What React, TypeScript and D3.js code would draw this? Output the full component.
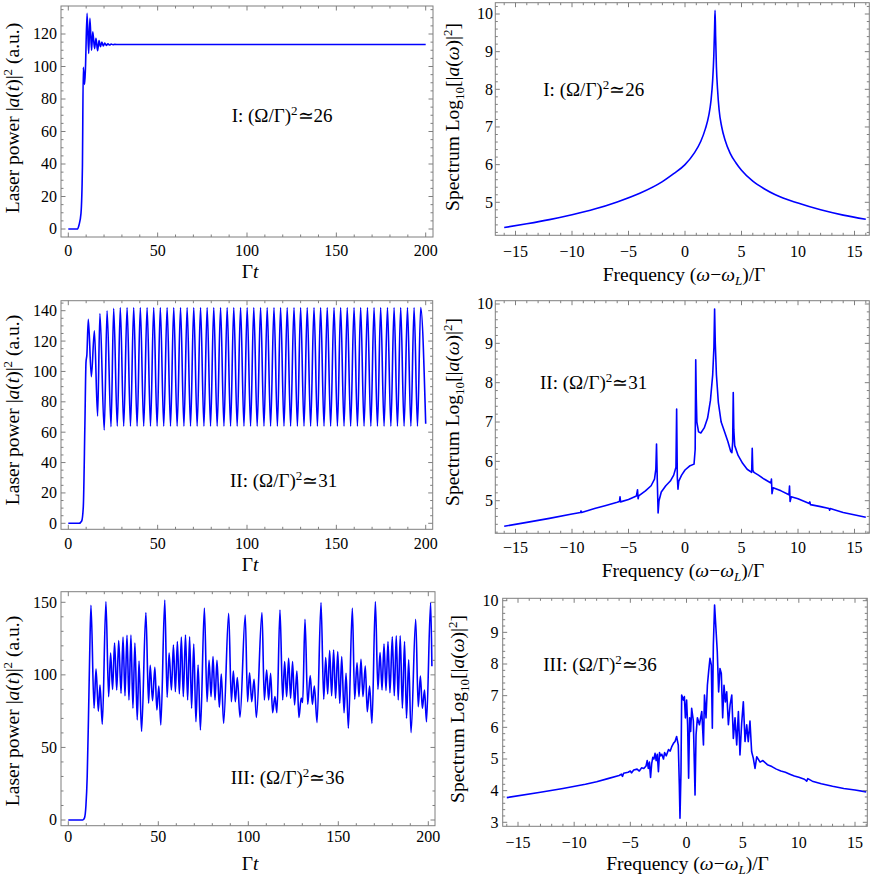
import React from "react";
import * as d3 from "d3";

type Pt = [number, number];

// ---------- tick values ----------
const TIME_TICKS = [0, 50, 100, 150, 200];
const FREQ_TICKS = [-15, -10, -5, 0, 5, 10, 15];
const POWER_TICKS_I = [0, 20, 40, 60, 80, 100, 120];
const POWER_TICKS_II = [0, 20, 40, 60, 80, 100, 120, 140];
const POWER_TICKS_III = [0, 50, 100, 150];
const LOG_TICKS_I = [5, 6, 7, 8, 9, 10];
const LOG_TICKS_II = [5, 6, 7, 8, 9, 10];
const LOG_TICKS_III = [3, 4, 5, 6, 7, 8, 9, 10];
const REGIME_LABELS = ["I", "II", "III"];
const RATIO_VALUES = [26, 31, 36];

// ---------- series ----------
const POWER_I: Pt[] = [
  [0, 0], [5, 0], [6, 2.5], [7.1, 9.6], [7.9, 38], [8.4, 99.5], [9.1, 89], [9.6, 99],
  [10.5, 132.7], [11.4, 108], [12.1, 129.6], [13.0, 110], [13.7, 121.4], [14.7, 111],
  [15.5, 117.3], [16.4, 109.7], [17.2, 116], [18.0, 112.2], [18.8, 115], [19.6, 112.6],
  [20.4, 114.4], [21.3, 113], [22.2, 114], [23.1, 113.2], [24, 113.8], [25, 113.4],
  [26, 113.6], [28, 113.5], [200, 113.5],
];

const POWER_II: Pt[] = [
  [0, 0], [6, 0], [7.5, 1.5], [8.4, 11], [9.3, 66], [9.9, 106], [10.4, 111], [11.2, 134.3],
  [12.9, 96.5], [14.6, 126.8], [16.4, 70.6], [17.7, 138.2], [20.1, 61.4], [21.7, 140],
  [23.9, 63.6], [25.4, 141.5], [27.4, 64], [29.1, 142], [31.0, 64], [32.9, 142], [34.8, 64],
  [36.6, 142], [38.5, 64], [40.3, 142], [42.2, 64], [44.1, 142], [46.0, 64], [47.8, 142],
  [49.7, 64], [51.5, 142], [53.4, 64], [55.3, 142], [57.2, 64], [59.0, 142], [60.9, 64],
  [62.8, 142], [64.7, 64], [66.5, 142], [68.4, 64], [70.2, 142], [72.1, 64], [74.0, 142],
  [75.9, 64], [77.7, 142], [79.6, 64], [81.4, 142], [83.3, 64], [85.2, 142], [87.1, 64],
  [88.9, 142], [90.8, 64], [92.6, 142], [94.5, 64], [96.4, 142], [98.3, 64], [100.1, 142],
  [102.0, 64], [103.8, 142], [105.7, 64], [107.6, 142], [109.5, 64], [111.3, 142],
  [113.2, 64], [115.1, 142], [117.0, 64], [118.8, 142], [120.7, 64], [122.5, 142],
  [124.4, 64], [126.3, 142], [128.2, 64], [130.0, 142], [131.9, 64], [133.7, 142],
  [135.6, 64], [137.5, 142], [139.4, 64], [141.2, 142], [143.1, 64], [144.9, 142],
  [146.8, 64], [148.7, 142], [150.6, 64], [152.4, 142], [154.3, 64], [156.1, 142],
  [158.0, 64], [159.9, 142], [161.8, 64], [163.6, 142], [165.5, 64], [167.4, 142],
  [169.3, 64], [171.1, 142], [173.0, 64], [174.8, 142], [176.7, 64], [178.6, 142],
  [180.5, 64], [182.3, 142], [184.2, 64], [186.0, 142], [187.9, 64], [189.8, 142],
  [191.7, 64], [193.5, 142], [195.4, 64], [197.2, 142], [200, 65.5],
];

const POWER_III: Pt[] = [
  [0, 0], [8, 0], [9, 1.5], [9.8, 10], [10.5, 30], [11.2, 70], [11.9, 115], [12.6, 148],
  [14.3, 77], [15.4, 104], [16.7, 75], [17.6, 93], [18.9, 66], [20.9, 150.5], [22.4, 85],
  [23.5, 115], [24.6, 90], [25.7, 122], [26.9, 89.6], [28.0, 123.6], [29.3, 87.3],
  [30.4, 126], [31.5, 85.6], [32.6, 127.3], [33.7, 82.7], [34.8, 127.5], [35.9, 77],
  [37.0, 122], [38.3, 69], [39.3, 109.6], [40.7, 61], [43.1, 143], [44.6, 80.4],
  [45.5, 106.6], [46.8, 82.2], [48.1, 105.2], [49.2, 75.8], [50.3, 92.3], [51.4, 65.5],
  [53.6, 151.6], [54.9, 84.5], [56.0, 115], [57.3, 89.6], [58.4, 120.6], [59.5, 88.4],
  [60.6, 123], [61.7, 87], [62.8, 126], [63.9, 85], [65.1, 127.5], [66.3, 82.7],
  [67.4, 126.3], [68.5, 77], [69.7, 121.3], [70.9, 67.7], [72.1, 106.8], [73.4, 62],
  [75.6, 146], [77.1, 81.5], [78.2, 110], [79.3, 85], [80.4, 112.6], [81.5, 82.7],
  [82.6, 110], [83.9, 77.7], [85.0, 100.6], [86.3, 66.6], [89.1, 142.4], [90.6, 81.5],
  [91.7, 102.7], [92.8, 81.5], [93.9, 98.1], [95.4, 70.8], [98.3, 141.3], [99.6, 81.5],
  [100.7, 101.5], [101.9, 81.5], [103.2, 97], [104.5, 70.6], [107.6, 143], [108.9, 82.7],
  [110.2, 103.4], [111.3, 82.7], [112.4, 101.1], [113.5, 73.9], [114.8, 85], [115.9, 73.9],
  [117.6, 144.7], [119.1, 82.7], [120.2, 109.1], [121.3, 85], [122.4, 111.4], [123.5, 83.9],
  [124.6, 109.1], [125.7, 79.3], [127.0, 102.7], [128.1, 70.6], [129.4, 84], [130.2, 81],
  [131.5, 138.3], [133.0, 79.7], [134.4, 99.5], [135.6, 79.7], [136.7, 92.3], [138.2, 67.1],
  [140.4, 149.8], [141.9, 83.2], [143.0, 111.9], [144.1, 86.8], [145.2, 116.7], [146.3, 85.6],
  [147.4, 117.1], [148.5, 83.9], [149.7, 116], [150.8, 80.4], [151.9, 112.6], [153.2, 73.9],
  [154.3, 101.1], [155.6, 63.2], [157.8, 146], [159.1, 83.2], [160.4, 108.4], [161.5, 85],
  [162.6, 110.7], [163.7, 85], [165.0, 106.1], [166.1, 74.6], [167.4, 92.3], [168.7, 66.6],
  [170.6, 150.5], [172.0, 90], [173.2, 115.3], [174.3, 89.6], [175.4, 121.3], [176.5, 89.2],
  [177.6, 122.9], [178.7, 87.7], [180.0, 126.3], [181.1, 85.6], [182.2, 126.9], [183.3, 82.7],
  [184.4, 126.9], [185.6, 77], [186.8, 122.9], [187.9, 70.1], [189.1, 110.3], [190.4, 60.2],
  [193.0, 138.3], [194.4, 78.1], [195.6, 99.2], [196.7, 77], [197.9, 89.6], [199.0, 67.7],
  [201.3, 149.8], [202.0, 106],
];

const SPECTRUM_I: Pt[] = [
  [-16, 4.33], [-14, 4.43], [-12, 4.54], [-10, 4.67], [-8, 4.82], [-6, 5.01], [-4, 5.24],
  [-2, 5.55], [-1, 5.76], [0, 6.0], [0.8, 6.3], [1.4, 6.62], [1.8, 6.95], [2.1, 7.3],
  [2.3, 7.7], [2.45, 8.25], [2.55, 8.9], [2.62, 9.65], [2.66, 10.1], [2.71, 9.4],
  [2.78, 8.6], [2.88, 8.0], [3.02, 7.45], [3.25, 7.0], [3.55, 6.65], [4.0, 6.3],
  [4.5, 6.05], [5.0, 5.85], [6.0, 5.56], [7.0, 5.36], [8.0, 5.2], [10.0, 4.98],
  [12.0, 4.8], [14.0, 4.66], [16.0, 4.55],
];

const SPECTRUM_II: Pt[] = [
  [-16, 4.35], [-14, 4.45], [-12, 4.55], [-10, 4.66], [-9.25, 4.7], [-9.2, 4.74],
  [-9.15, 4.7], [-8, 4.8], [-7, 4.88], [-6, 4.96], [-5.8, 4.98], [-5.75, 5.1], [-5.7, 4.97],
  [-5, 5.03], [-4.3, 5.12], [-4.2, 5.28], [-4.15, 5.05], [-4.1, 5.12], [-3.5, 5.25],
  [-3.0, 5.38], [-2.7, 5.55], [-2.58, 5.8], [-2.52, 6.44], [-2.45, 5.5], [-2.38, 4.69],
  [-2.3, 5.0], [-2.1, 5.22], [-1.7, 5.38], [-1.3, 5.5], [-1.0, 5.65], [-0.8, 5.85],
  [-0.74, 7.33], [-0.68, 5.6], [-0.62, 5.29], [-0.55, 5.5], [-0.3, 5.65], [0.0, 5.78],
  [0.4, 5.88], [0.8, 5.93], [0.9, 6.3], [0.95, 8.58], [1.0, 7.6], [1.05, 7.0], [1.2, 6.75],
  [1.4, 6.72], [1.7, 6.85], [2.0, 7.1], [2.25, 7.55], [2.45, 8.2], [2.56, 8.9],
  [2.62, 9.87], [2.68, 9.0], [2.78, 8.2], [2.95, 7.5], [3.2, 7.0], [3.5, 6.75], [3.8, 6.5],
  [4.05, 6.25], [4.15, 6.22], [4.22, 6.5], [4.27, 7.75], [4.32, 6.8], [4.4, 6.4],
  [4.7, 6.15], [5.1, 5.95], [5.5, 5.8], [5.9, 5.72], [5.95, 6.33], [6.0, 5.78],
  [6.1, 5.72], [6.5, 5.65], [7.0, 5.55], [7.6, 5.45], [7.65, 5.55], [7.7, 5.18],
  [7.8, 5.33], [8.5, 5.25], [9.2, 5.15], [9.25, 5.37], [9.3, 4.98], [9.4, 5.1],
  [10, 5.05], [11, 4.93], [11.05, 4.97], [11.1, 4.9], [12, 4.85], [12.75, 4.8],
  [12.8, 4.76], [12.85, 4.8], [14, 4.7], [16, 4.58],
];

const SPECTRUM_III: Pt[] = [
  [-16, 3.78], [-13, 3.95], [-11, 4.07], [-9, 4.2], [-8, 4.28], [-7, 4.38], [-6, 4.48],
  [-5.8, 4.52], [-5.7, 4.45], [-5.6, 4.55], [-5.2, 4.58], [-5.0, 4.62], [-4.9, 4.56],
  [-4.7, 4.65], [-4.4, 4.68], [-4.2, 4.62], [-4.0, 4.72], [-3.8, 4.7], [-3.6, 4.78],
  [-3.5, 4.95], [-3.4, 4.7], [-3.3, 4.9], [-3.2, 4.42], [-3.1, 4.85], [-3.0, 5.05],
  [-2.9, 5.0], [-2.8, 5.18], [-2.7, 4.95], [-2.6, 5.15], [-2.5, 4.6], [-2.4, 5.2],
  [-2.3, 5.1], [-2.2, 5.15], [-2.05, 5.0], [-1.95, 5.2], [-1.8, 5.1], [-1.6, 5.3],
  [-1.45, 5.25], [-1.3, 5.4], [-1.15, 5.5], [-1.02, 5.55], [-0.88, 5.71], [-0.73, 5.44],
  [-0.64, 4.2], [-0.58, 3.13], [-0.49, 4.6], [-0.43, 7.02], [-0.28, 6.86], [-0.19, 6.97],
  [-0.1, 6.3], [0.01, 6.86], [0.1, 6.08], [0.19, 4.39], [0.28, 6.3], [0.37, 5.87],
  [0.46, 6.6], [0.61, 6.2], [0.76, 3.86], [0.85, 5.76], [0.97, 6.3], [1.15, 6.08],
  [1.36, 6.5], [1.51, 5.44], [1.6, 7.02], [1.74, 6.3], [1.86, 7.33], [1.97, 7.76],
  [2.09, 8.18], [2.21, 7.97], [2.3, 5.97], [2.39, 8.6], [2.5, 9.86], [2.62, 9.13],
  [2.74, 8.39], [2.86, 7.12], [2.98, 7.86], [3.1, 7.7], [3.22, 6.3], [3.34, 7.33],
  [3.46, 6.8], [3.58, 7.12], [3.73, 6.08], [3.88, 6.71], [4.03, 7.02], [4.17, 5.65],
  [4.32, 6.3], [4.47, 5.44], [4.62, 6.5], [4.76, 5.13], [4.91, 6.13], [5.06, 6.81],
  [5.21, 5.55], [5.36, 6.08], [5.5, 5.55], [5.65, 6.2], [5.8, 5.23], [5.95, 5.02],
  [6.1, 4.7], [6.25, 5.07], [6.55, 4.9], [6.8, 4.95], [7.2, 4.82], [7.6, 4.76],
  [8.0, 4.68], [8.4, 4.62], [8.8, 4.58], [9.2, 4.52], [9.6, 4.46], [10.0, 4.42],
  [10.5, 4.36], [10.7, 4.3], [10.8, 4.38], [11.2, 4.3], [12, 4.22], [13, 4.14],
  [14, 4.07], [15, 4.02], [16, 3.96],
];

// ---------- layout ----------
const FONT = '"Liberation Serif", "Times New Roman", Times, serif';
const BLUE = "#0000ff";
const FRAME = "#7f7f7f";

interface Layout {
  l: number; t: number; r: number; b: number;
  xd: [number, number]; xr: [number, number];
  yd: [number, number]; yr: [number, number];
  xMinor: number; yMinor: number;
  ylx: number; ylcy: number; xlcx: number; xly: number;
  tly: number; ytr: number; ax: number; ay: number;
  kind: "time" | "freq";
}

const LAYOUTS: Layout[] = [
  { l: 61, t: 6, r: 433, b: 237, xd: [0, 200], xr: [68.3, 425.7], yd: [0, 120], yr: [229, 34],
    xMinor: 10, yMinor: 5, ylx: 19.3, ylcy: 118, xlcx: 250, xly: 278, tly: 255.7, ytr: 57,
    ax: 231.7, ay: 121.5, kind: "time" },
  { l: 495.3, t: 2.7, r: 869.3, b: 235.3, xd: [0, 15], xr: [685, 854.5], yd: [5, 10], yr: [202.3, 14],
    xMinor: 1, yMinor: 0.2, ylx: 459.3, ylcy: 117, xlcx: 684, xly: 280.5, tly: 256.7, ytr: 493,
    ax: 543.3, ay: 96, kind: "freq" },
  { l: 61, t: 300.7, r: 432.7, b: 529.3, xd: [0, 200], xr: [68.3, 425.7], yd: [0, 140], yr: [523.3, 310.7],
    xMinor: 10, yMinor: 5, ylx: 19.3, ylcy: 410, xlcx: 250, xly: 571, tly: 549.3, ytr: 57,
    ax: 230, ay: 487.3, kind: "time" },
  { l: 495.3, t: 300.7, r: 869.3, b: 533.3, xd: [0, 15], xr: [685, 854.5], yd: [5, 10], yr: [500.7, 304],
    xMinor: 1, yMinor: 0.2, ylx: 459.3, ylcy: 412, xlcx: 683, xly: 576.5, tly: 553.3, ytr: 493,
    ax: 540, ay: 389.3, kind: "freq" },
  { l: 61, t: 591.7, r: 435, b: 825.7, xd: [0, 200], xr: [68.3, 428.3], yd: [0, 150], yr: [820, 602.3],
    xMinor: 10, yMinor: 10, ylx: 19.3, ylcy: 711, xlcx: 250, xly: 869.5, tly: 841.7, ytr: 57,
    ax: 230.7, ay: 784, kind: "time" },
  { l: 502.7, t: 598.3, r: 867.3, b: 826.3, xd: [0, 15], xr: [686.5, 855], yd: [3, 10], yr: [822.3, 600.7],
    xMinor: 1, yMinor: 0.2, ylx: 463.5, ylcy: 709, xlcx: 687.5, xly: 870, tly: 848.3, ytr: 498.5,
    ax: 543.3, ay: 671, kind: "freq" },
];

const fmt = (v: number) => (v < 0 ? "\u2212" + Math.abs(v) : String(v));

function minorTicks(lo: number, hi: number, step: number, majors: number[]) {
  const out: number[] = [];
  const a = Math.ceil(lo / step - 1e-9);
  const b = Math.floor(hi / step + 1e-9);
  for (let i = a; i <= b; i++) {
    const v = +(i * step).toFixed(6);
    if (!majors.some((m) => Math.abs(m - v) < 1e-6)) out.push(v);
  }
  return out;
}

interface PanelProps {
  lay: Layout;
  series: Pt[];
  xTicks: number[];
  yTicks: number[];
  regime: string;
  ratio: number;
  curve: d3.CurveFactory;
  id: string;
}

function Panel({ lay, series, xTicks, yTicks, regime, ratio, curve, id }: PanelProps) {
  const xs = d3.scaleLinear().domain(lay.xd).range(lay.xr);
  const ys = d3.scaleLinear().domain(lay.yd).range(lay.yr);
  const line = d3.line<Pt>().x((d) => xs(d[0])).y((d) => ys(d[1])).curve(curve);
  const xlo = xs.invert(lay.l), xhi = xs.invert(lay.r);
  const ylo = ys.invert(lay.b), yhi = ys.invert(lay.t);
  const xMin = minorTicks(xlo, xhi, lay.xMinor, xTicks);
  const yMin = minorTicks(ylo, yhi, lay.yMinor, yTicks);
  const MAJ = 4.5, MIN = 2.5;
  const tickLines: JSX.Element[] = [];
  const addX = (v: number, len: number, k: string) => {
    const x = xs(v);
    tickLines.push(<line key={"xb" + k} x1={x} x2={x} y1={lay.b} y2={lay.b - len} />);
    tickLines.push(<line key={"xt" + k} x1={x} x2={x} y1={lay.t} y2={lay.t + len} />);
  };
  const addY = (v: number, len: number, k: string) => {
    const y = ys(v);
    tickLines.push(<line key={"yl" + k} x1={lay.l} x2={lay.l + len} y1={y} y2={y} />);
    tickLines.push(<line key={"yr" + k} x1={lay.r} x2={lay.r - len} y1={y} y2={y} />);
  };
  xTicks.forEach((v, i) => addX(v, MAJ, "M" + i));
  xMin.forEach((v, i) => addX(v, MIN, "m" + i));
  yTicks.forEach((v, i) => addY(v, MAJ, "M" + i));
  yMin.forEach((v, i) => addY(v, MIN, "m" + i));

  const yLabel =
    lay.kind === "time" ? (
      <text transform={`translate(${lay.ylx},${lay.ylcy}) rotate(-90)`} textAnchor="middle" fontSize={19.5}>
        {"Laser power |"}
        <tspan fontStyle="italic">a</tspan>
        {"("}
        <tspan fontStyle="italic">t</tspan>
        {")|"}
        <tspan dy={-7} fontSize={13}>2</tspan>
        <tspan dy={7}>{" (a.u.)"}</tspan>
      </text>
    ) : (
      <text transform={`translate(${lay.ylx},${lay.ylcy}) rotate(-90)`} textAnchor="middle" fontSize={19.5}>
        {"Spectrum Log"}
        <tspan dy={5} fontSize={13}>10</tspan>
        <tspan dy={-5}>{"[|"}</tspan>
        <tspan fontStyle="italic">a</tspan>
        {"("}
        <tspan fontStyle="italic">{"\u03c9"}</tspan>
        {")|"}
        <tspan dy={-7} fontSize={13}>2</tspan>
        <tspan dy={7}>{"]"}</tspan>
      </text>
    );

  const xLabel =
    lay.kind === "time" ? (
      <text x={lay.xlcx} y={lay.xly} textAnchor="middle" fontSize={19.5}>
        {"\u0393"}
        <tspan fontStyle="italic">t</tspan>
      </text>
    ) : (
      <text x={lay.xlcx} y={lay.xly} textAnchor="middle" fontSize={19.5}>
        {"Frequency ("}
        <tspan fontStyle="italic">{"\u03c9"}</tspan>
        {"\u2212"}
        <tspan fontStyle="italic">{"\u03c9"}</tspan>
        <tspan dy={4} fontSize={13} fontStyle="italic">L</tspan>
        <tspan dy={-4}>{")/\u0393"}</tspan>
      </text>
    );

  return (
    <g fontFamily={FONT}>
      <defs>
        <clipPath id={id}>
          <rect x={lay.l} y={lay.t} width={lay.r - lay.l} height={lay.b - lay.t} />
        </clipPath>
      </defs>
      <path d={line(series) || ""} fill="none" stroke={BLUE} strokeWidth={1.6} strokeLinejoin="round" clipPath={`url(#${id})`} />
      <rect x={lay.l} y={lay.t} width={lay.r - lay.l} height={lay.b - lay.t} fill="none" stroke={FRAME} strokeWidth={1} />
      <g stroke={FRAME} strokeWidth={1}>{tickLines}</g>
      <g fontSize={16} fill="#000">
        {xTicks.map((v) => (
          <text key={"xl" + v} x={xs(v)} y={lay.tly} textAnchor="middle">{fmt(v)}</text>
        ))}
        {yTicks.map((v) => (
          <text key={"yl" + v} x={lay.ytr} y={ys(v)} dy="0.34em" textAnchor="end">{fmt(v)}</text>
        ))}
      </g>
      {yLabel}
      {xLabel}
      <text x={lay.ax} y={lay.ay} fontSize={19}>
        {regime + ": (\u03a9/\u0393)"}
        <tspan dy={-7} fontSize={13}>2</tspan>
        <tspan dy={7}>{"\u2243" + ratio}</tspan>
      </text>
    </g>
  );
}

export default function App() {
  return (
    <svg width={872} height={879} style={{ position: "absolute", left: 0, top: 0, background: "#fff" }}>
      <rect x={0} y={0} width={872} height={879} fill="#fff" />
      <Panel id="c1" lay={LAYOUTS[0]} series={POWER_I} xTicks={TIME_TICKS} yTicks={POWER_TICKS_I}
        regime={REGIME_LABELS[0]} ratio={RATIO_VALUES[0]} curve={d3.curveMonotoneX} />
      <Panel id="c2" lay={LAYOUTS[1]} series={SPECTRUM_I} xTicks={FREQ_TICKS} yTicks={LOG_TICKS_I}
        regime={REGIME_LABELS[0]} ratio={RATIO_VALUES[0]} curve={d3.curveMonotoneX} />
      <Panel id="c3" lay={LAYOUTS[2]} series={POWER_II} xTicks={TIME_TICKS} yTicks={POWER_TICKS_II}
        regime={REGIME_LABELS[1]} ratio={RATIO_VALUES[1]} curve={d3.curveMonotoneX} />
      <Panel id="c4" lay={LAYOUTS[3]} series={SPECTRUM_II} xTicks={FREQ_TICKS} yTicks={LOG_TICKS_II}
        regime={REGIME_LABELS[1]} ratio={RATIO_VALUES[1]} curve={d3.curveLinear} />
      <Panel id="c5" lay={LAYOUTS[4]} series={POWER_III} xTicks={TIME_TICKS} yTicks={POWER_TICKS_III}
        regime={REGIME_LABELS[2]} ratio={RATIO_VALUES[2]} curve={d3.curveMonotoneX} />
      <Panel id="c6" lay={LAYOUTS[5]} series={SPECTRUM_III} xTicks={FREQ_TICKS} yTicks={LOG_TICKS_III}
        regime={REGIME_LABELS[2]} ratio={RATIO_VALUES[2]} curve={d3.curveLinear} />
    </svg>
  );
}
